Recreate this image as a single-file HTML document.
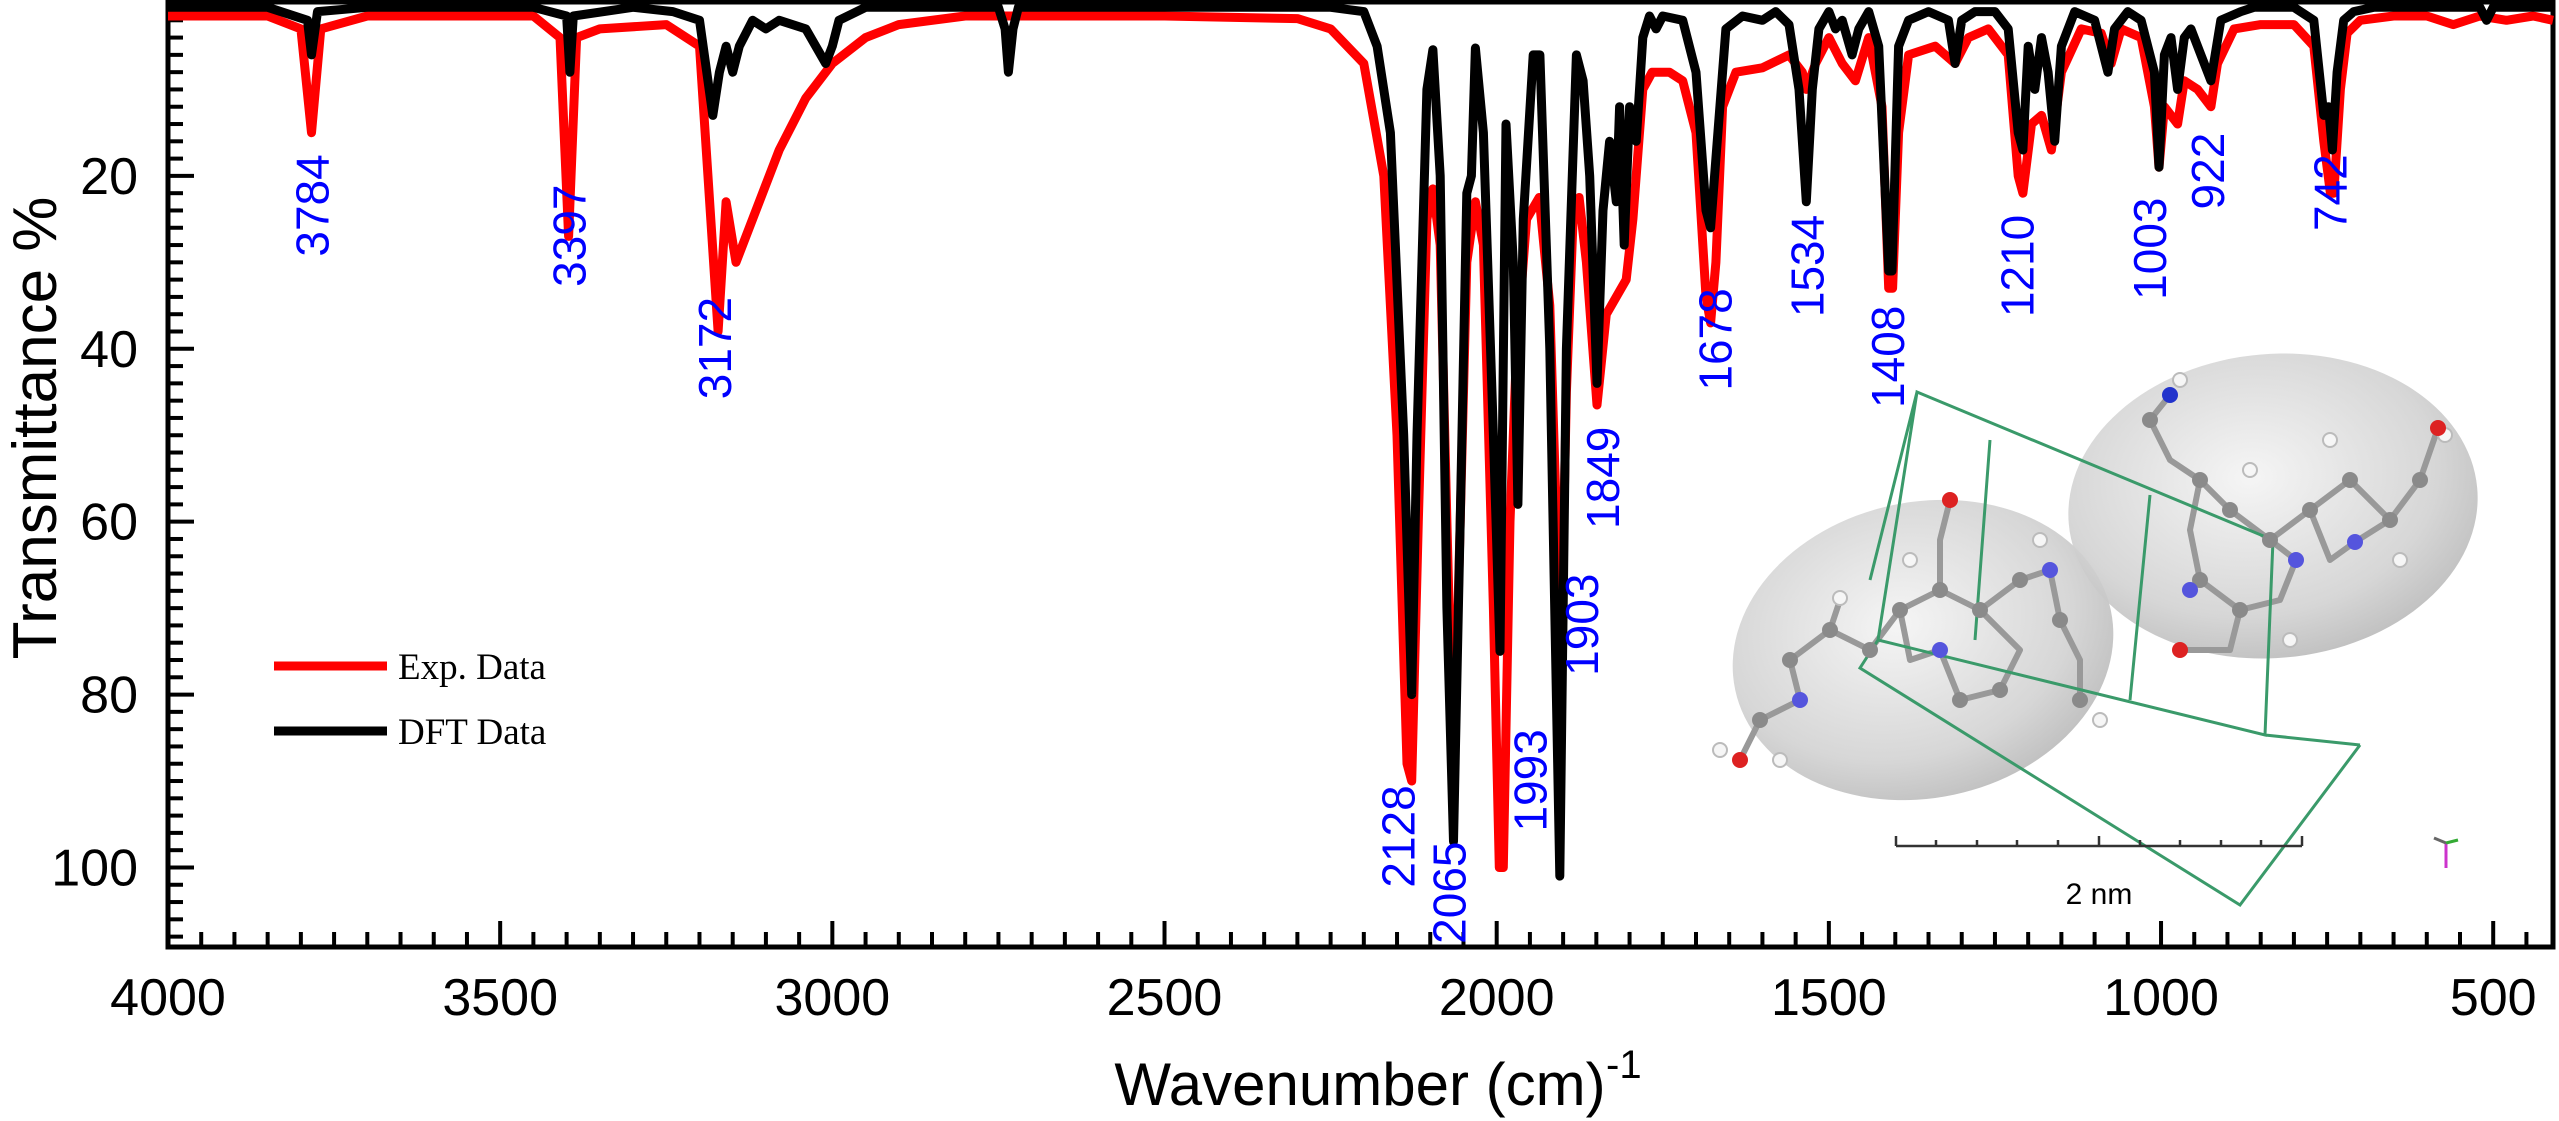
<!DOCTYPE html>
<html><head><meta charset="utf-8"><style>
html,body{margin:0;padding:0;background:#fff;}
svg{display:block;}
</style></head>
<body>
<svg id="chart" width="2559" height="1121" viewBox="0 0 2559 1121" xmlns="http://www.w3.org/2000/svg">
<defs>
<radialGradient id="ellG" cx="45%" cy="40%" r="65%">
<stop offset="0%" stop-color="#f4f4f4"/><stop offset="70%" stop-color="#d2d2d2"/><stop offset="100%" stop-color="#b5b5b5"/>
</radialGradient>
</defs>
<g id="inset">
 <ellipse cx="1923" cy="650" rx="192" ry="148" transform="rotate(-12 1923 650)" fill="url(#ellG)" opacity="0.9"/>
 <ellipse cx="2273" cy="506" rx="205" ry="152" transform="rotate(-5 2273 506)" fill="url(#ellG)" opacity="0.9"/>
 <g fill="none" stroke="#999" stroke-width="6" stroke-linejoin="round">
  <path d="M1740 760 L1760 720 L1800 700 L1790 660 L1830 630 L1870 650 L1900 610 L1940 590 L1980 610 L2020 580 L2050 570 L2060 620 L2080 660 L2080 700"/>
  <path d="M1830 630 L1840 600 M1900 610 L1910 660 L1940 650 L1960 700 L2000 690 L2020 650 L1980 610 M1950 500 L1940 540 L1940 590"/>
  <path d="M2150 420 L2170 395 M2150 420 L2170 460 L2200 480 L2230 510 L2270 540 L2310 510 L2350 480 L2390 520 L2420 480 L2438 428"/>
  <path d="M2200 480 L2190 530 L2200 580 L2240 610 L2280 600 L2296 560 L2270 540 M2310 510 L2330 560 L2355 542 L2390 520 M2240 610 L2230 650 L2180 650"/>
 </g>
 <path d="M1917 392 L2273 540 L2265 735 L1878 640 Z M1917 392 L1870 580 M1878 640 L1860 668 L2240 905 L2360 745 M1860 668 L2240 905 M2265 735 L2360 745 M1990 440 L1975 640 M2150 495 L2130 700" fill="none" stroke="#3a9a6a" stroke-width="3"/>
 <g fill="#8a8a8a">
  <circle cx="1760" cy="720" r="8"/><circle cx="1790" cy="660" r="8"/><circle cx="1830" cy="630" r="8"/><circle cx="1870" cy="650" r="8"/><circle cx="1900" cy="610" r="8"/><circle cx="1940" cy="590" r="8"/><circle cx="1980" cy="610" r="8"/><circle cx="2020" cy="580" r="8"/><circle cx="2060" cy="620" r="8"/><circle cx="2080" cy="700" r="8"/><circle cx="1960" cy="700" r="8"/><circle cx="2000" cy="690" r="8"/>
  <circle cx="2200" cy="480" r="8"/><circle cx="2230" cy="510" r="8"/><circle cx="2270" cy="540" r="8"/><circle cx="2310" cy="510" r="8"/><circle cx="2350" cy="480" r="8"/><circle cx="2390" cy="520" r="8"/><circle cx="2420" cy="480" r="8"/><circle cx="2200" cy="580" r="8"/><circle cx="2240" cy="610" r="8"/><circle cx="2150" cy="420" r="8"/>
 </g>
 <g fill="#f6f6f6" stroke="#bbb" stroke-width="2">
  <circle cx="1840" cy="598" r="7"/><circle cx="1910" cy="560" r="7"/><circle cx="2040" cy="540" r="7"/><circle cx="2100" cy="720" r="7"/><circle cx="1780" cy="760" r="7"/><circle cx="1720" cy="750" r="7"/>
  <circle cx="2180" cy="380" r="7"/><circle cx="2250" cy="470" r="7"/><circle cx="2330" cy="440" r="7"/><circle cx="2445" cy="435" r="7"/><circle cx="2400" cy="560" r="7"/><circle cx="2290" cy="640" r="7"/>
 </g>
 <g>
  <circle cx="1800" cy="700" r="8" fill="#5555dd"/><circle cx="1940" cy="650" r="8" fill="#5555dd"/><circle cx="2050" cy="570" r="8" fill="#5555dd"/><circle cx="2190" cy="590" r="8" fill="#5555dd"/><circle cx="2296" cy="560" r="8" fill="#5555dd"/><circle cx="2355" cy="542" r="8" fill="#5555dd"/><circle cx="2170" cy="395" r="8" fill="#2233cc"/>
  <circle cx="1950" cy="500" r="8" fill="#dd2222"/><circle cx="1740" cy="760" r="8" fill="#dd2222"/><circle cx="2180" cy="650" r="8" fill="#dd2222"/><circle cx="2438" cy="428" r="8" fill="#dd2222"/>
 </g>
 <g stroke="#333" stroke-width="2.5">
  <line x1="1896" y1="846" x2="2302" y2="846"/>
  <line x1="1896" y1="836" x2="1896" y2="846"/><line x1="1936" y1="840" x2="1936" y2="846"/><line x1="1977" y1="840" x2="1977" y2="846"/><line x1="2017" y1="840" x2="2017" y2="846"/><line x1="2058" y1="840" x2="2058" y2="846"/><line x1="2099" y1="836" x2="2099" y2="846"/><line x1="2140" y1="840" x2="2140" y2="846"/><line x1="2180" y1="840" x2="2180" y2="846"/><line x1="2221" y1="840" x2="2221" y2="846"/><line x1="2261" y1="840" x2="2261" y2="846"/><line x1="2302" y1="836" x2="2302" y2="846"/>
 </g>
 <text x="2099" y="904" font-family="Liberation Sans, sans-serif" font-size="30" text-anchor="middle" fill="#000">2 nm</text>
 <g stroke-width="3">
  <line x1="2446" y1="843" x2="2446" y2="868" stroke="#cc33cc"/><line x1="2446" y1="843" x2="2434" y2="838" stroke="#666"/><line x1="2446" y1="843" x2="2458" y2="840" stroke="#3a3"/>
 </g>
</g>
<g id="axes"></g>
<g id="series"></g>
<g id="labels"></g>
</svg>
<script>
const expWn = [4000,3850,3800,3784,3770,3700,3450,3410,3397,3385,3350,3250,3200,3172,3160,3145,3120,3080,3040,3000,2950,2900,2800,2500,2300,2250,2200,2170,2150,2135,2128,2118,2105,2096,2085,2075,2065,2055,2045,2032,2020,2005,1996,1990,1980,1970,1955,1936,1920,1910,1903,1895,1885,1876,1865,1849,1835,1820,1805,1795,1780,1766,1740,1720,1700,1685,1678,1670,1660,1640,1600,1560,1540,1534,1520,1500,1480,1460,1440,1420,1410,1404,1395,1380,1340,1310,1290,1260,1230,1215,1208,1195,1180,1165,1150,1120,1090,1075,1060,1030,1010,1003,995,985,975,965,945,925,915,890,850,800,770,755,745,740,730,720,700,650,600,560,520,480,440,410];
const expT  = [1.5,1.5,3,15,3,1.5,1.5,4,27,4,3,2.5,5,38,23,30,25,17,11,7,4,2.5,1.5,1.5,1.8,3,7,20,50,88,90,60,25,21.5,28,60,90,60,30,23,28,70,100,100,60,40,25,22.5,35,60,75,45,25,22.5,30,46.5,36,34,32,25,10,8,8,9,15,34,37,30,12,8,7.5,6,8,10,7,4,7,9,4,12,33,33,15,6,5,7,4,3,6,20,22,14,13,17,8,3,3.5,7,3,4,12,19,12,13,14,9,10,12,7,3,2.5,2.5,5,16,22,22,10,3.5,2,1.5,1.5,2.5,1.5,2,1.5,2];
const dftWn = [4000,3850,3790,3784,3775,3700,3450,3400,3395,3390,3300,3240,3200,3180,3170,3160,3150,3140,3120,3100,3080,3040,3010,3000,2990,2950,2750,2740,2735,2728,2720,2250,2200,2180,2160,2140,2128,2120,2105,2096,2085,2075,2065,2055,2045,2038,2032,2020,2005,1995,1986,1975,1968,1960,1945,1935,1920,1905,1895,1880,1870,1860,1849,1840,1830,1820,1815,1808,1800,1790,1780,1770,1760,1750,1720,1700,1685,1678,1670,1655,1630,1600,1580,1560,1545,1534,1525,1515,1500,1490,1480,1465,1455,1440,1425,1410,1405,1395,1380,1350,1320,1310,1300,1280,1250,1230,1215,1208,1200,1190,1180,1170,1160,1150,1130,1100,1080,1070,1050,1030,1010,1003,995,985,975,965,955,940,925,910,880,860,800,770,755,748,742,735,725,710,680,600,520,510,500,410];
const dftT  = [0.5,0.5,2,6,1,0.5,0.5,1.5,8,1.5,0.5,1,2,13,8,5,8,5,2,3,2,3,7,5,2,0.5,0.5,3,8,3,0.5,0.5,1,5,15,50,80,50,10,5.4,20,70,97,60,22,20,5.2,15,50,75,14,30,58,25,6,6,40,101,40,6,9,20,44,24,16,23,12,28,12,16,4,1.5,3,1.5,2,8,24,26,18,3,1.5,2,1,2.5,10,23,10,3,1,3,2,6,3,1,5,31,31,5,2,1,2,7,2,1,1,3,15,17,5,10,4,8,16,5,1,2,8,3,1,2,8,19,6,4,10,4,3,6,9,2,1,0.5,0.5,2,13,12,17,8,2,1,0.5,0.5,0.5,2,0.5,0.5];
const xTicks = [4000,3500,3000,2500,2000,1500,1000,500];
const yTicks = [20,40,60,80,100];
const peakWn = [3784,3397,3172,2128,2065,1993,1903,1849,1678,1534,1408,1210,1003,922,742];
const peakLabelTop = [17.5,21,34,90.5,97,84,66,49,33,24.5,35,24.5,22.5,15,17.5];
const peakLabelDx = [0,0,-4,-14,-5,28,20,5,4,0,-3,-5,-10,-6,-3];

const X0=168, X1=2553, W0=4000, W1=410, Y0=3, Y1=947, T0=0, T1=109.2;
function xs(w){return X0+(W0-w)*(X1-X0)/(W0-W1);}
function ys(t){return Y0+(t-T0)*(Y1-Y0)/(T1-T0);}
const NS='http://www.w3.org/2000/svg';
function mk(tag,attrs,parent){const e=document.createElementNS(NS,tag);for(const k in attrs)e.setAttribute(k,attrs[k]);parent.appendChild(e);return e;}
const axes=document.getElementById('axes'), series=document.getElementById('series'), labels=document.getElementById('labels');

function pathFor(wn,t){return wn.map((w,i)=>(i?'L':'M')+xs(w).toFixed(1)+' '+ys(t[i]).toFixed(1)).join(' ');}
const red=mk('path',{d:pathFor(expWn,expT),fill:'none',stroke:'#ff0000','stroke-width':9,'stroke-linejoin':'round'},series);


const blk=mk('path',{d:pathFor(dftWn,dftT),fill:'none',stroke:'#000','stroke-width':9,'stroke-linejoin':'round'},series);



const frame=mk('rect',{x:X0,y:Y0-1,width:X1-X0,height:Y1-Y0+1,fill:'none',stroke:'#000','stroke-width':5},axes);


for(let w=4000;w>=W1;w-=50){
  const major=(w%500===0);
  const t=mk('line',{x1:xs(w),x2:xs(w),y1:Y1,y2:Y1-(major?26:15),stroke:'#000','stroke-width':4},axes);
  
  
}
xTicks.forEach(w=>{
  const t=mk('text',{x:xs(w),y:1015,'font-family':'Liberation Sans, sans-serif','font-size':52,'text-anchor':'middle',fill:'#000'},axes);
  t.textContent=String(w);
  
  
});
for(let v=2;v<=108;v+=2){
  const major=(v%20===0);
  const t=mk('line',{x1:X0,x2:X0+(major?26:15),y1:ys(v),y2:ys(v),stroke:'#000','stroke-width':4},axes);
  
  
}
yTicks.forEach(v=>{
  const t=mk('text',{x:138,y:ys(v)+18,'font-family':'Liberation Sans, sans-serif','font-size':52,'text-anchor':'end',fill:'#000'},axes);
  t.textContent=String(v);
  
  
});
const yt=mk('text',{x:0,y:0,transform:'translate(56 428) rotate(-90)','font-family':'Liberation Sans, sans-serif','font-size':62,'text-anchor':'middle',fill:'#000'},axes);
yt.textContent='Transmittance %';


const xt=mk('text',{x:1360,y:1105,'font-family':'Liberation Sans, sans-serif','font-size':60,'text-anchor':'middle',fill:'#000'},axes);
xt.textContent='Wavenumber (cm)';


const sup=mk('text',{x:1606,y:1078,'font-family':'Liberation Sans, sans-serif','font-size':40,fill:'#000'},axes);
sup.textContent='-1';



const lg=mk('g',{},axes);


const l1=mk('line',{x1:274,x2:387,y1:666,y2:666,stroke:'#ff0000','stroke-width':9},lg);


const t1=mk('text',{x:398,y:679,'font-family':'Liberation Serif, serif','font-size':37,fill:'#000'},lg);
t1.textContent='Exp. Data';


const l2=mk('line',{x1:274,x2:387,y1:731,y2:731,stroke:'#000','stroke-width':9},lg);


const t2=mk('text',{x:398,y:744,'font-family':'Liberation Serif, serif','font-size':37,fill:'#000'},lg);
t2.textContent='DFT Data';



peakWn.forEach((w,i)=>{
  const x=xs(w)+peakLabelDx[i]+17, y=ys(peakLabelTop[i]);
  const t=mk('text',{x:0,y:0,transform:`translate(${x.toFixed(1)} ${y.toFixed(1)}) rotate(-90)`,'font-family':'Liberation Sans, sans-serif','font-size':46,'text-anchor':'end',fill:'#0000ff'},labels);
  t.textContent=String(w);
  
  
});
</script>
</body></html>
